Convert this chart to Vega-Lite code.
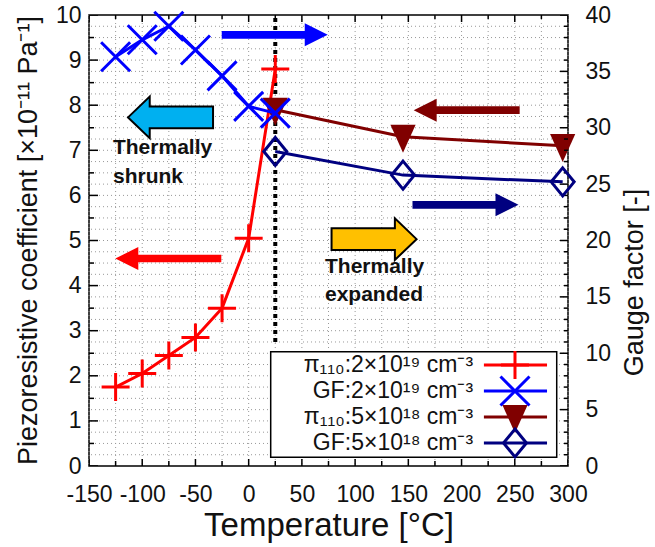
{
  "$schema": "https://vega.github.io/schema/vega-lite/v6.json",
  "width": 479,
  "height": 451,
  "autosize": "none",
  "padding": {"left": 89, "top": 15, "right": 87, "bottom": 81},
  "background": "white",
  "config": {
    "view": {"stroke": "black", "strokeWidth": 1.5},
    "font": "Liberation Sans",
    "axis": {
      "domain": false,
      "ticks": false,
      "grid": false,
      "labelFont": "Liberation Sans",
      "labelColor": "#111",
      "labelFontSize": 23,
      "titleFont": "Liberation Sans",
      "titleFontWeight": "normal",
      "titleColor": "#111",
      "labelFlush": false,
      "labelBound": false
    }
  },
  "datasets": {
    "pi": [
      {"conc": "2e19", "T": -125, "pi": 1.75},
      {"conc": "2e19", "T": -100, "pi": 2.05},
      {"conc": "2e19", "T": -75, "pi": 2.45},
      {"conc": "2e19", "T": -50, "pi": 2.85},
      {"conc": "2e19", "T": -25, "pi": 3.5},
      {"conc": "2e19", "T": 0, "pi": 5.05},
      {"conc": "2e19", "T": 25, "pi": 8.8},
      {"conc": "5e18", "T": 25, "pi": 7.9},
      {"conc": "5e18", "T": 145, "pi": 7.3},
      {"conc": "5e18", "T": 295, "pi": 7.1}
    ],
    "gf": [
      {"conc": "2e19", "T": -125, "gf": 36.3},
      {"conc": "2e19", "T": -100, "gf": 37.8},
      {"conc": "2e19", "T": -75, "gf": 39.0},
      {"conc": "2e19", "T": -50, "gf": 36.9},
      {"conc": "2e19", "T": -25, "gf": 34.6},
      {"conc": "2e19", "T": 0, "gf": 31.9},
      {"conc": "2e19", "T": 25, "gf": 31.3},
      {"conc": "5e18", "T": 25, "gf": 27.9},
      {"conc": "5e18", "T": 145, "gf": 25.8},
      {"conc": "5e18", "T": 295, "gf": 25.2}
    ],
    "arrows": [
      {"id": "gf19", "T": 24.5, "v": 9.56},
      {"id": "pi19", "T": -75.5, "v": 4.6},
      {"id": "pi18", "T": 204.8, "v": 7.89},
      {"id": "gf18", "T": 203.7, "v": 5.79},
      {"id": "shrunk", "T": -73.4, "v": 7.73},
      {"id": "expanded", "T": 117.8, "v": 5.03}
    ],
    "notes": [
      {"T": -127.5, "v": 6.91, "txt": "Thermally"},
      {"T": -127.5, "v": 6.28, "txt": "shrunk"},
      {"T": 71.7, "v": 4.27, "txt": "Thermally"},
      {"T": 71.7, "v": 3.66, "txt": "expanded"}
    ],
    "legend": [
      {"key": "pi19", "label": "π₁₁₀:2×10¹⁹ cm⁻³", "g": 8.96},
      {"key": "gf19", "label": "GF:2×10¹⁹ cm⁻³", "g": 6.65},
      {"key": "pi18", "label": "π₁₁₀:5×10¹⁸ cm⁻³", "g": 4.35},
      {"key": "gf18", "label": "GF:5×10¹⁸ cm⁻³", "g": 2.04}
    ],
    "marker": [{"T": 25, "lo": 2.75, "hi": 10}],
    "xticks": [{"T": -150}, {"T": -125}, {"T": -100}, {"T": -75}, {"T": -50}, {"T": -25}, {"T": 0}, {"T": 25}, {"T": 50}, {"T": 75}, {"T": 100}, {"T": 125}, {"T": 150}, {"T": 175}, {"T": 200}, {"T": 225}, {"T": 250}, {"T": 275}, {"T": 300}],
    "ygrid": [{"v": 0.25}, {"v": 0.5}, {"v": 0.75}, {"v": 1}, {"v": 1.25}, {"v": 1.5}, {"v": 1.75}, {"v": 2}, {"v": 2.25}, {"v": 2.5}, {"v": 2.75}, {"v": 3}, {"v": 3.25}, {"v": 3.5}, {"v": 3.75}, {"v": 4}, {"v": 4.25}, {"v": 4.5}, {"v": 4.75}, {"v": 5}, {"v": 5.25}, {"v": 5.5}, {"v": 5.75}, {"v": 6}, {"v": 6.25}, {"v": 6.5}, {"v": 6.75}, {"v": 7}, {"v": 7.25}, {"v": 7.5}, {"v": 7.75}, {"v": 8}, {"v": 8.25}, {"v": 8.5}, {"v": 8.75}, {"v": 9}, {"v": 9.25}, {"v": 9.5}, {"v": 9.75}],
    "yticks": [{"v": 0}, {"v": 0.5}, {"v": 1}, {"v": 1.5}, {"v": 2}, {"v": 2.5}, {"v": 3}, {"v": 3.5}, {"v": 4}, {"v": 4.5}, {"v": 5}, {"v": 5.5}, {"v": 6}, {"v": 6.5}, {"v": 7}, {"v": 7.5}, {"v": 8}, {"v": 8.5}, {"v": 9}, {"v": 9.5}, {"v": 10}],
    "gticks": [{"g": 0}, {"g": 1}, {"g": 2}, {"g": 3}, {"g": 4}, {"g": 5}, {"g": 6}, {"g": 7}, {"g": 8}, {"g": 9}, {"g": 10}, {"g": 11}, {"g": 12}, {"g": 13}, {"g": 14}, {"g": 15}, {"g": 16}, {"g": 17}, {"g": 18}, {"g": 19}, {"g": 20}, {"g": 21}, {"g": 22}, {"g": 23}, {"g": 24}, {"g": 25}, {"g": 26}, {"g": 27}, {"g": 28}, {"g": 29}, {"g": 30}, {"g": 31}, {"g": 32}, {"g": 33}, {"g": 34}, {"g": 35}, {"g": 36}, {"g": 37}, {"g": 38}, {"g": 39}, {"g": 40}]
  },
  "layer": [
    {
      "layer": [
        {
          "data": {"name": "xticks"},
          "mark": {"type": "rule", "color": "#999", "strokeWidth": 1, "strokeDash": [1, 3]},
          "encoding": {
            "x": {
              "field": "T", "type": "quantitative",
              "scale": {"domain": [-150, 300], "nice": false, "zero": false},
              "axis": {
                "orient": "bottom",
                "title": "Temperature [°C]",
                "titleFontSize": 33,
                "titleX": 239.5,
                "titleY": 59,
                "titleAlign": "center",
                "titleBaseline": "middle",
                "values": [-150, -100, -50, 0, 50, 100, 150, 200, 250, 300],
                "labelExpr": "'' + datum.value",
                "labelPadding": 17
              }
            }
          }
        },
        {
          "data": {"name": "ygrid"},
          "mark": {"type": "rule", "color": "#999", "strokeWidth": 1, "strokeDash": [1, 3]},
          "encoding": {
            "y": {
              "field": "v", "type": "quantitative",
              "scale": {"domain": [0, 10], "nice": false, "zero": false},
              "axis": {
                "orient": "left",
                "title": "Piezoresistive coefficient [×10⁻¹¹ Pa⁻¹]",
                "titleFontSize": 27,
                "titleAngle": -90,
                "titleX": -61,
                "titleY": 225,
                "titleAlign": "center",
                "titleBaseline": "middle",
                "values": [0, 1, 2, 3, 4, 5, 6, 7, 8, 9, 10],
                "labelExpr": "'' + datum.value",
                "labelPadding": 8
              }
            }
          }
        },
        {
          "data": {"name": "marker"},
          "mark": {"type": "rule", "color": "black", "strokeWidth": 4, "strokeDash": [4, 4]},
          "encoding": {
            "x": {"field": "T", "type": "quantitative"},
            "y": {"field": "lo", "type": "quantitative"},
            "y2": {"field": "hi"}
          }
        },
        {
          "data": {"name": "xticks"},
          "transform": [{"filter": "datum.T % 50 === 0"}],
          "mark": {"type": "tick", "orient": "vertical", "color": "black", "size": 14, "thickness": 1.5, "opacity": 1, "clip": true},
          "encoding": {"x": {"field": "T", "type": "quantitative"}, "y": {"datum": 0}}
        },
        {
          "data": {"name": "xticks"},
          "transform": [{"filter": "datum.T % 50 !== 0"}],
          "mark": {"type": "tick", "orient": "vertical", "color": "black", "size": 10, "thickness": 1.5, "opacity": 1, "clip": true},
          "encoding": {"x": {"field": "T", "type": "quantitative"}, "y": {"datum": 0}}
        },
        {
          "data": {"name": "xticks"},
          "transform": [{"filter": "datum.T % 50 === 0"}],
          "mark": {"type": "tick", "orient": "vertical", "color": "black", "size": 14, "thickness": 1.5, "opacity": 1, "clip": true},
          "encoding": {"x": {"field": "T", "type": "quantitative"}, "y": {"datum": 10}}
        },
        {
          "data": {"name": "xticks"},
          "transform": [{"filter": "datum.T % 50 !== 0"}],
          "mark": {"type": "tick", "orient": "vertical", "color": "black", "size": 8, "thickness": 1.5, "opacity": 1, "clip": true},
          "encoding": {"x": {"field": "T", "type": "quantitative"}, "y": {"datum": 10}}
        },
        {
          "data": {"name": "yticks"},
          "transform": [{"filter": "datum.v % 1 === 0"}],
          "mark": {"type": "tick", "orient": "horizontal", "color": "black", "size": 18, "thickness": 1.5, "opacity": 1, "clip": true},
          "encoding": {"y": {"field": "v", "type": "quantitative"}, "x": {"datum": -150}}
        },
        {
          "data": {"name": "yticks"},
          "transform": [{"filter": "datum.v % 1 !== 0"}],
          "mark": {"type": "tick", "orient": "horizontal", "color": "black", "size": 10, "thickness": 1.5, "opacity": 1, "clip": true},
          "encoding": {"y": {"field": "v", "type": "quantitative"}, "x": {"datum": -150}}
        },
        {
          "data": {"name": "pi"},
          "transform": [{"filter": "datum.conc === '2e19'"}],
          "mark": {"type": "line", "color": "#ff0000", "strokeWidth": 3},
          "encoding": {"x": {"field": "T", "type": "quantitative"}, "y": {"field": "pi", "type": "quantitative"}}
        },
        {
          "data": {"name": "pi"},
          "transform": [{"filter": "datum.conc === '2e19'"}],
          "mark": {"type": "point", "shape": "M-1,0L1,0M0,-1L0,1", "size": 784, "filled": false, "stroke": "#ff0000", "strokeWidth": 3, "opacity": 1},
          "encoding": {"x": {"field": "T", "type": "quantitative"}, "y": {"field": "pi", "type": "quantitative"}}
        },
        {
          "data": {"name": "pi"},
          "transform": [{"filter": "datum.conc === '5e18'"}],
          "mark": {"type": "line", "color": "#800000", "strokeWidth": 3},
          "encoding": {"x": {"field": "T", "type": "quantitative"}, "y": {"field": "pi", "type": "quantitative"}}
        },
        {
          "data": {"name": "pi"},
          "transform": [{"filter": "datum.conc === '5e18'"}],
          "mark": {"type": "point", "shape": "M-0.9,-0.85L0.9,-0.85L0,1.15Z", "size": 784, "filled": true, "fill": "#800000", "strokeWidth": 0, "opacity": 1},
          "encoding": {"x": {"field": "T", "type": "quantitative"}, "y": {"field": "pi", "type": "quantitative"}}
        },
        {
          "data": {"name": "arrows"},
          "transform": [{"filter": "datum.id === 'gf19'"}],
          "mark": {"type": "point", "shape": "M-1,-0.072L0.566,-0.072L0.566,-0.217L1,0L0.566,0.217L0.566,0.072L-1,0.072Z", "size": 11236, "filled": true, "fill": "#0000ff", "strokeWidth": 0, "opacity": 1},
          "encoding": {"x": {"field": "T", "type": "quantitative"}, "y": {"field": "v", "type": "quantitative"}}
        },
        {
          "data": {"name": "arrows"},
          "transform": [{"filter": "datum.id === 'gf18'"}],
          "mark": {"type": "point", "shape": "M-1,-0.072L0.566,-0.072L0.566,-0.217L1,0L0.566,0.217L0.566,0.072L-1,0.072Z", "size": 11236, "filled": true, "fill": "#000080", "strokeWidth": 0, "opacity": 1},
          "encoding": {"x": {"field": "T", "type": "quantitative"}, "y": {"field": "v", "type": "quantitative"}}
        },
        {
          "data": {"name": "arrows"},
          "transform": [{"filter": "datum.id === 'pi19'"}],
          "mark": {"type": "point", "shape": "M1,-0.072L-0.566,-0.072L-0.566,-0.217L-1,0L-0.566,0.217L-0.566,0.072L1,0.072Z", "size": 11236, "filled": true, "fill": "#ff0000", "strokeWidth": 0, "opacity": 1},
          "encoding": {"x": {"field": "T", "type": "quantitative"}, "y": {"field": "v", "type": "quantitative"}}
        },
        {
          "data": {"name": "arrows"},
          "transform": [{"filter": "datum.id === 'pi18'"}],
          "mark": {"type": "point", "shape": "M1,-0.072L-0.566,-0.072L-0.566,-0.217L-1,0L-0.566,0.217L-0.566,0.072L1,0.072Z", "size": 11236, "filled": true, "fill": "#800000", "strokeWidth": 0, "opacity": 1},
          "encoding": {"x": {"field": "T", "type": "quantitative"}, "y": {"field": "v", "type": "quantitative"}}
        },
        {
          "data": {"name": "arrows"},
          "transform": [{"filter": "datum.id === 'shrunk'"}],
          "mark": {"type": "point", "shape": "M1,-0.255L-0.49,-0.255L-0.49,-0.49L-1,0L-0.49,0.49L-0.49,0.255L1,0.255Z", "size": 7225, "filled": true, "fill": "#00b0f0", "stroke": "black", "strokeWidth": 2, "opacity": 1},
          "encoding": {"x": {"field": "T", "type": "quantitative"}, "y": {"field": "v", "type": "quantitative"}}
        },
        {
          "data": {"name": "arrows"},
          "transform": [{"filter": "datum.id === 'expanded'"}],
          "mark": {"type": "point", "shape": "M-1,-0.255L0.49,-0.255L0.49,-0.49L1,0L0.49,0.49L0.49,0.255L-1,0.255Z", "size": 7225, "filled": true, "fill": "#ffc000", "stroke": "black", "strokeWidth": 2, "opacity": 1},
          "encoding": {"x": {"field": "T", "type": "quantitative"}, "y": {"field": "v", "type": "quantitative"}}
        },
        {
          "data": {"name": "notes"},
          "mark": {"type": "text", "align": "left", "baseline": "alphabetic", "font": "Liberation Sans", "fontSize": 21, "fontWeight": "bold", "color": "#111"},
          "encoding": {"x": {"field": "T", "type": "quantitative"}, "y": {"field": "v", "type": "quantitative"}, "text": {"field": "txt"}}
        }
      ]
    },
    {
      "layer": [
        {
          "data": {"name": "gticks"},
          "transform": [{"filter": "datum.g % 5 === 0"}],
          "mark": {"type": "tick", "orient": "horizontal", "color": "black", "size": 16, "thickness": 1.5, "opacity": 1, "clip": true},
          "encoding": {
            "x": {"datum": 300},
            "y": {
              "field": "g", "type": "quantitative",
              "scale": {"domain": [0, 40], "nice": false, "zero": false},
              "axis": {
                "orient": "right",
                "title": "Gauge factor [-]",
                "titleFontSize": 27,
                "titleAngle": -90,
                "titleX": 66,
                "titleY": 267,
                "titleAlign": "center",
                "titleBaseline": "middle",
                "values": [0, 5, 10, 15, 20, 25, 30, 35, 40],
                "labelExpr": "'' + datum.value",
                "labelPadding": 17
              }
            }
          }
        },
        {
          "data": {"name": "gticks"},
          "transform": [{"filter": "datum.g % 5 !== 0"}],
          "mark": {"type": "tick", "orient": "horizontal", "color": "black", "size": 8, "thickness": 1.5, "opacity": 1, "clip": true},
          "encoding": {"x": {"datum": 300}, "y": {"field": "g", "type": "quantitative"}}
        },
        {
          "data": {"name": "gf"},
          "transform": [{"filter": "datum.conc === '2e19'"}],
          "mark": {"type": "line", "color": "#0000ff", "strokeWidth": 3},
          "encoding": {"x": {"field": "T", "type": "quantitative"}, "y": {"field": "gf", "type": "quantitative"}}
        },
        {
          "data": {"name": "gf"},
          "transform": [{"filter": "datum.conc === '2e19'"}],
          "mark": {"type": "point", "shape": "M-1,-1L1,1M-1,1L1,-1", "size": 841, "filled": false, "stroke": "#0000ff", "strokeWidth": 3, "opacity": 1},
          "encoding": {"x": {"field": "T", "type": "quantitative"}, "y": {"field": "gf", "type": "quantitative"}}
        },
        {
          "data": {"name": "gf"},
          "transform": [{"filter": "datum.conc === '5e18'"}],
          "mark": {"type": "line", "color": "#000080", "strokeWidth": 3},
          "encoding": {"x": {"field": "T", "type": "quantitative"}, "y": {"field": "gf", "type": "quantitative"}}
        },
        {
          "data": {"name": "gf"},
          "transform": [{"filter": "datum.conc === '5e18'"}],
          "mark": {"type": "point", "shape": "M0,-1L0.82,0L0,1L-0.82,0Z", "size": 784, "filled": false, "stroke": "#000080", "strokeWidth": 3, "opacity": 1},
          "encoding": {"x": {"field": "T", "type": "quantitative"}, "y": {"field": "gf", "type": "quantitative"}}
        },
        {
          "data": {"values": [{}]},
          "mark": {"type": "rect", "fill": "white", "stroke": "black", "strokeWidth": 1.5},
          "encoding": {"x": {"datum": 20.7}, "x2": {"datum": 289.4}, "y": {"datum": 0.77}, "y2": {"datum": 10.14}}
        },
        {
          "data": {"name": "legend"},
          "mark": {"type": "rule", "strokeWidth": 3},
          "encoding": {
            "x": {"datum": 221},
            "x2": {"datum": 280.3},
            "y": {"field": "g", "type": "quantitative"},
            "color": {"field": "key", "type": "nominal", "scale": {"domain": ["pi19", "gf19", "pi18", "gf18"], "range": ["#ff0000", "#0000ff", "#800000", "#000080"]}, "legend": null}
          }
        },
        {
          "data": {"name": "legend"},
          "transform": [{"filter": "datum.key === 'pi19'"}],
          "mark": {"type": "point", "shape": "M-1,0L1,0M0,-1L0,1", "size": 784, "filled": false, "stroke": "#ff0000", "strokeWidth": 3, "opacity": 1},
          "encoding": {"x": {"datum": 250.2}, "y": {"field": "g", "type": "quantitative"}}
        },
        {
          "data": {"name": "legend"},
          "transform": [{"filter": "datum.key === 'gf19'"}],
          "mark": {"type": "point", "shape": "M-1,-1L1,1M-1,1L1,-1", "size": 841, "filled": false, "stroke": "#0000ff", "strokeWidth": 3, "opacity": 1},
          "encoding": {"x": {"datum": 250.2}, "y": {"field": "g", "type": "quantitative"}}
        },
        {
          "data": {"name": "legend"},
          "transform": [{"filter": "datum.key === 'pi18'"}],
          "mark": {"type": "point", "shape": "M-0.9,-0.85L0.9,-0.85L0,1.15Z", "size": 784, "filled": true, "fill": "#800000", "strokeWidth": 0, "opacity": 1},
          "encoding": {"x": {"datum": 250.2}, "y": {"field": "g", "type": "quantitative"}}
        },
        {
          "data": {"name": "legend"},
          "transform": [{"filter": "datum.key === 'gf18'"}],
          "mark": {"type": "point", "shape": "M0,-1L0.82,0L0,1L-0.82,0Z", "size": 784, "filled": false, "stroke": "#000080", "strokeWidth": 3, "opacity": 1},
          "encoding": {"x": {"datum": 250.2}, "y": {"field": "g", "type": "quantitative"}}
        },
        {
          "data": {"name": "legend"},
          "mark": {"type": "text", "align": "right", "baseline": "middle", "font": "Liberation Sans", "fontSize": 23, "color": "#111"},
          "encoding": {"x": {"datum": 210.8}, "y": {"field": "g", "type": "quantitative"}, "text": {"field": "label"}}
        }
      ]
    }
  ],
  "resolve": {"scale": {"y": "independent"}, "axis": {"y": "independent"}}
}
